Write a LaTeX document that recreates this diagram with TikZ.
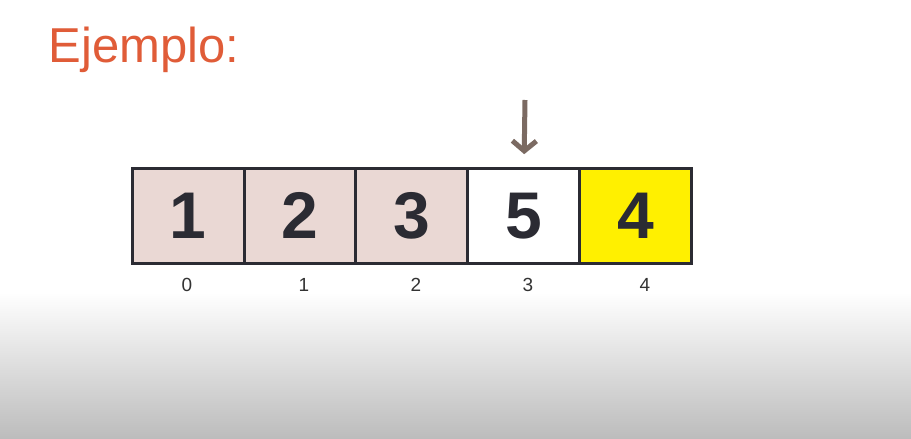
\documentclass[tikz,border=0pt]{standalone}
\usepackage{fontspec}
\setmainfont{Liberation Sans}
\usepackage{xcolor}
\usepackage{tikz}
\usetikzlibrary{matrix,arrows.meta,calc}
\definecolor{titleorange}{HTML}{E05C38}
\definecolor{cellpink}{HTML}{EAD8D4}
\definecolor{cellyellow}{HTML}{FFF000}
\definecolor{cellborder}{HTML}{2B2B33}
\definecolor{arrowbrown}{HTML}{7B6A62}
\definecolor{bottomgray}{HTML}{BCBCBC}
\pgfkeys{tikz/myarray/.style={matrix of nodes,inner sep=0pt,outer sep=0pt,column sep=-3pt,nodes={mycell}}}
\pgfkeys{tikz/mycell/.style={draw=cellborder,line width=3pt,outer sep=1.5pt,fill=cellpink,minimum width=112pt,minimum height=95pt,inner sep=0pt,text=cellborder,font=\fontsize{66}{66}\selectfont\bfseries}}
\pgfkeys{tikz/myindex/.style={text=black!80,font=\fontsize{19}{19}\selectfont}}
\pgfkeys{tikz/mypointer/.style={draw=arrowbrown,line width=5pt,-{Straight Barb[length=10pt,width=24pt]}}}
\newcommand\mytitlesize{\fontsize{49}{49}\selectfont}

\begin{document}
\begin{tikzpicture}[x=1pt,y=-1pt]
    \useasboundingbox (0,0) rectangle (911,439);
    \fill[white] (0,0) rectangle (911,439);
    \shade[top color=white,bottom color=bottomgray] (0,292) rectangle (911,439);
    \node[anchor=base west,text=titleorange,font=\mytitlesize] (title) at (45,62) {Ejemplo:};
    \matrix[myarray,anchor=north west] (a) at (130.5,166.5) {
        1 & 2 & 3 & |[fill=white]| 5 & |[fill=cellyellow]| 4 \\
    };
    \foreach \i/\x in {0/187,1/304,2/416,3/528,4/645}
        \node[myindex] (i\i) at (\x,285) {\i};
    \coordinate (ptr) at (525,100);
    \draw[mypointer,shorten >=13pt] (ptr) -- (a-1-4.north);
\end{tikzpicture}
\end{document}
